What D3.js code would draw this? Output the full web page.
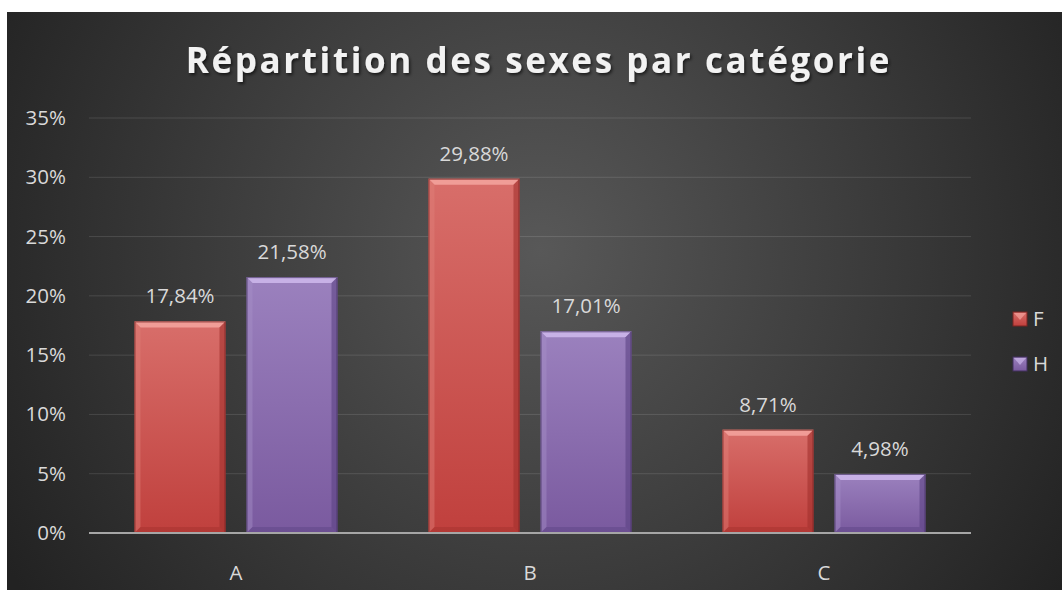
<!DOCTYPE html>
<html>
<head>
<meta charset="utf-8">
<script src="https://cdn.jsdelivr.net/npm/d3@7"></script>
<style>
  html, body { margin: 0; padding: 0; background: #fff; }
  svg { display: block; }
  text { font-family: 'Open Sans', 'Noto Sans', sans-serif; }
</style>
</head>
<body>
<div id="chart"></div>
<script>
const categories = ['A', 'B', 'C'];
const seriesNames = ['F', 'H'];
const valuesF = [17.84, 29.88, 8.71];
const valuesH = [21.58, 17.01, 4.98];
const yTicks = [0, 5, 10, 15, 20, 25, 30, 35];
const titleText = 'Répartition des sexes par catégorie';

const W = 1062, H = 590;
const margin = { top: 118, right: 91, bottom: 57, left: 89 };

const seriesValues = { F: valuesF, H: valuesH };
const palette = {
  F: { top: '#d86e6a', bottom: '#c0403d', bevelTop: '#f3a29c', bevelSide: '#e0807b', bevelDark: '#a2302d', edge: '#7a2422' },
  H: { top: '#9b81be', bottom: '#7a5a9f', bevelTop: '#ccb6ea', bevelSide: '#a790c8', bevelDark: '#5c4283', edge: '#43305f' }
};

const svg = d3.select('#chart').append('svg').attr('width', W).attr('height', H);
const defs = svg.append('defs');

// background radial gradient
const bg = defs.append('radialGradient').attr('id', 'bg')
  .attr('gradientUnits', 'userSpaceOnUse')
  .attr('cx', 540).attr('cy', 250).attr('r', 620);
bg.append('stop').attr('offset', '0%').attr('stop-color', '#585858');
bg.append('stop').attr('offset', '100%').attr('stop-color', '#222222');

svg.append('rect').attr('x', 7).attr('y', 12).attr('width', W - 7).attr('height', H - 12)
  .attr('fill', 'url(#bg)');

// bar gradients
seriesNames.forEach(s => {
  const g = defs.append('linearGradient').attr('id', 'grad' + s)
    .attr('x1', 0).attr('y1', 0).attr('x2', 0).attr('y2', 1);
  g.append('stop').attr('offset', '0%').attr('stop-color', palette[s].top);
  g.append('stop').attr('offset', '100%').attr('stop-color', palette[s].bottom);
});

const shadow = defs.append('filter').attr('id', 'tshadow')
  .attr('x', '-5%').attr('y', '-20%').attr('width', '110%').attr('height', '150%');
shadow.append('feDropShadow').attr('dx', 1.5).attr('dy', 2).attr('stdDeviation', 1.5)
  .attr('flood-color', '#000').attr('flood-opacity', 0.6);

// title
svg.append('text')
  .attr('x', 539).attr('y', 73)
  .attr('text-anchor', 'middle')
  .attr('font-size', 35).attr('font-weight', 700)
  .attr('letter-spacing', 2.6)
  .attr('fill', '#f2f2f2')
  .attr('filter', 'url(#tshadow)')
  .text(titleText);

const x0 = d3.scaleBand().domain(categories).range([margin.left, W - margin.right]);
const x1 = d3.scaleBand().domain(seriesNames).range([0, x0.bandwidth()])
  .paddingInner(0.1875).paddingOuter(0.406);
const y = d3.scaleLinear().domain([0, 35]).range([H - margin.bottom, margin.top]);

// gridlines
svg.append('g')
  .selectAll('line').data(yTicks.slice(1)).join('line')
  .attr('x1', margin.left).attr('x2', W - margin.right)
  .attr('y1', d => y(d)).attr('y2', d => y(d))
  .attr('stroke', '#ffffff').attr('stroke-opacity', 0.12).attr('stroke-width', 1);

// y axis labels
const yAxis = d3.axisLeft(y).tickValues(yTicks).tickSize(0).tickPadding(0)
  .tickFormat(d => d + '%');
const yAxisG = svg.append('g').attr('transform', 'translate(66,0)').call(yAxis);
yAxisG.select('.domain').remove();
yAxisG.selectAll('text').attr('font-size', 20.5).attr('fill', '#d9d9d9')
  .attr('font-family', "'Open Sans', sans-serif");

// bars
const fmt = v => v.toFixed(2).replace('.', ',') + '%';
const bevel = 6;
const groups = svg.append('g').selectAll('g').data(categories).join('g')
  .attr('transform', d => 'translate(' + x0(d) + ',0)');

seriesNames.forEach(s => {
  groups.each(function(cat, i) {
    const v = seriesValues[s][i];
    const bx = x1(s), bw = x1.bandwidth();
    const by = y(v), bh = y(0) - y(v);
    const g = d3.select(this).append('g');
    const p = palette[s];
    g.append('rect').attr('x', bx).attr('y', by).attr('width', bw).attr('height', bh)
      .attr('fill', 'url(#grad' + s + ')');
    const b = Math.min(bevel, bh / 2);
    // top bevel
    g.append('polygon')
      .attr('points', [[bx, by], [bx + bw, by], [bx + bw - b, by + b], [bx + b, by + b]].join(' '))
      .attr('fill', p.bevelTop).attr('opacity', 0.9);
    // left bevel
    g.append('polygon')
      .attr('points', [[bx, by], [bx + b, by + b], [bx + b, by + bh - b], [bx, by + bh]].join(' '))
      .attr('fill', p.bevelSide).attr('opacity', 0.45);
    // right bevel
    g.append('polygon')
      .attr('points', [[bx + bw, by], [bx + bw, by + bh], [bx + bw - b, by + bh - b], [bx + bw - b, by + b]].join(' '))
      .attr('fill', p.bevelDark).attr('opacity', 0.6);
    // bottom bevel
    g.append('polygon')
      .attr('points', [[bx, by + bh], [bx + b, by + bh - b], [bx + bw - b, by + bh - b], [bx + bw, by + bh]].join(' '))
      .attr('fill', p.bevelDark).attr('opacity', 0.45);
    g.append('rect').attr('x', bx + 0.5).attr('y', by + 0.5).attr('width', bw - 1).attr('height', bh - 1)
      .attr('fill', 'none').attr('stroke', p.edge).attr('stroke-opacity', 0.7).attr('stroke-width', 1);
    // value label
    d3.select(this).append('text')
      .attr('x', bx + bw / 2).attr('y', by - 18)
      .attr('text-anchor', 'middle')
      .attr('font-size', 20.5).attr('fill', '#d9d9d9')
      .text(fmt(v));
  });
});

// x axis line
svg.append('line')
  .attr('x1', margin.left).attr('x2', W - margin.right)
  .attr('y1', y(0)).attr('y2', y(0))
  .attr('stroke', '#a6a6a6').attr('stroke-width', 2);

const xAxis = d3.axisBottom(x0).tickSize(0).tickPadding(0);
const xAxisG = svg.append('g').attr('transform', 'translate(0,' + (y(0) + 32) + ')').call(xAxis);
xAxisG.select('.domain').remove();
xAxisG.selectAll('text').attr('font-size', 20.5).attr('fill', '#d9d9d9')
  .attr('font-family', "'Open Sans', sans-serif");

// legend
const legend = svg.append('g').selectAll('g').data(seriesNames).join('g')
  .attr('transform', (d, i) => 'translate(1013,' + (312 + i * 45) + ')');
legend.append('rect').attr('width', 14).attr('height', 14)
  .attr('fill', d => 'url(#grad' + d + ')')
  .attr('stroke', d => palette[d].edge).attr('stroke-width', 1);
legend.append('polygon')
  .attr('points', '1,1 13,1 7,8')
  .attr('fill', d => palette[d].bevelTop).attr('opacity', 0.7);
legend.append('text').attr('x', 20).attr('y', 7).attr('dy', '0.36em')
  .attr('font-size', 20.5).attr('fill', '#d9d9d9')
  .text(d => d);
</script>
</body>
</html>
